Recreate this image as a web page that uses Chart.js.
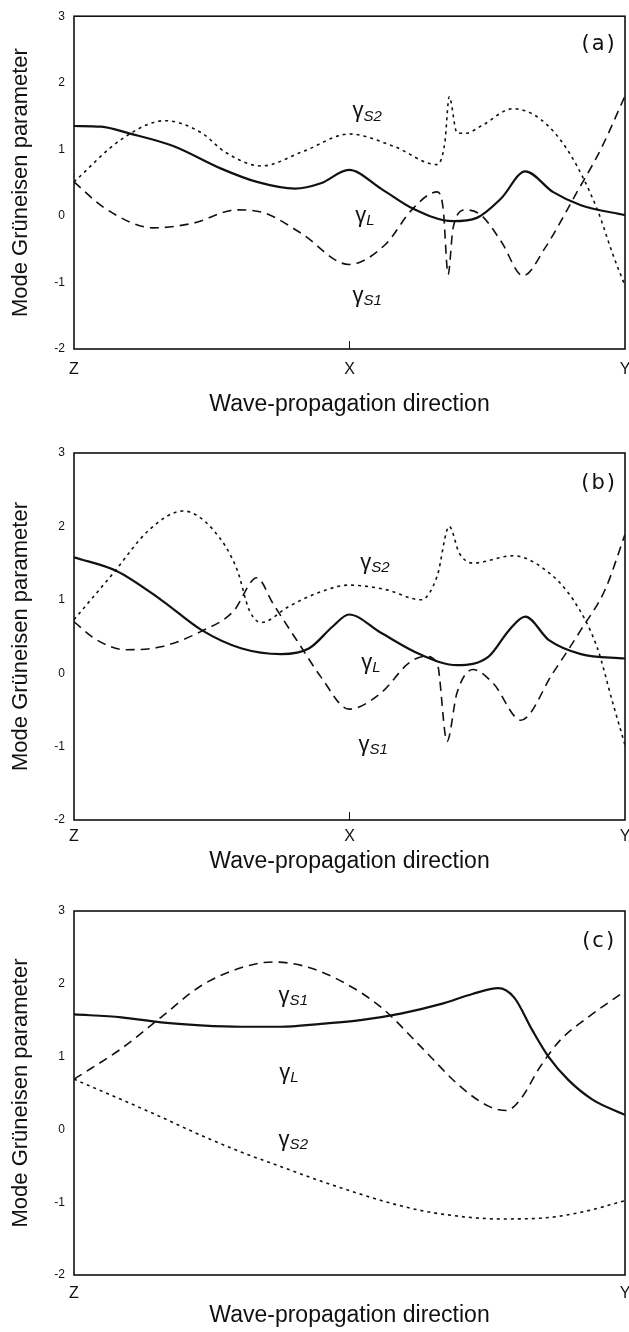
<!DOCTYPE html>
<html>
<head>
<meta charset="utf-8">
<script src="https://cdn.jsdelivr.net/npm/chart.js@4.4.1/dist/chart.umd.min.js"></script>
<style>
    html, body { margin: 0; padding: 0; background: #fff; }
    body { width: 629px; height: 1332px; position: relative; overflow: hidden; }
    .panel { position: absolute; left: 0; width: 629px; }
</style>
</head>
<body>
<div class="panel" style="top:0;height:420px"><canvas id="chartA"></canvas></div>
<div class="panel" style="top:430px;height:450px"><canvas id="chartB"></canvas></div>
<div class="panel" style="top:890px;height:442px"><canvas id="chartC"></canvas></div>
<script>
// axis ticks
const yTicks = [-2, -1, 0, 1, 2, 3];
const xTickLabelsAB = ['Z', 'X', 'Y'];
const xTickLabelsC = ['Z', 'Y'];

// panel (a): position along Z-X-Y path (0..1) and Grüneisen parameter
const aLx = [0, 0.049, 0.100, 0.180, 0.267, 0.332, 0.401, 0.448, 0.499, 0.557, 0.615, 0.688, 0.731, 0.775, 0.819, 0.869, 0.920, 1.0];
const aLy = [1.35, 1.34, 1.24, 1.05, 0.71, 0.51, 0.41, 0.49, 0.69, 0.41, 0.11, -0.08, -0.03, 0.26, 0.67, 0.36, 0.16, 0.01];
const aS2x = [0, 0.086, 0.165, 0.231, 0.274, 0.340, 0.419, 0.499, 0.579, 0.659, 0.673, 0.681, 0.695, 0.710, 0.739, 0.797, 0.847, 0.898, 0.949, 0.978, 1.0];
const aS2y = [0.51, 1.15, 1.43, 1.25, 0.96, 0.75, 0.98, 1.23, 1.05, 0.77, 1.10, 1.79, 1.25, 1.24, 1.35, 1.61, 1.45, 0.96, 0.11, -0.58, -1.05];
const aS1x = [0, 0.057, 0.144, 0.216, 0.296, 0.347, 0.412, 0.499, 0.565, 0.615, 0.659, 0.670, 0.679, 0.688, 0.710, 0.739, 0.775, 0.815, 0.855, 0.913, 0.956, 1.0];
const aS1y = [0.51, 0.11, -0.18, -0.11, 0.09, 0.04, -0.26, -0.73, -0.43, 0.11, 0.36, 0.11, -0.88, -0.18, 0.09, 0.01, -0.38, -0.90, -0.48, 0.36, 1.0, 1.80];

// panel (b)
const bLx = [0, 0.078, 0.158, 0.231, 0.303, 0.376, 0.427, 0.470, 0.499, 0.557, 0.630, 0.695, 0.753, 0.790, 0.819, 0.862, 0.920, 1.0];
const bLy = [1.58, 1.39, 1.0, 0.59, 0.34, 0.26, 0.34, 0.64, 0.80, 0.55, 0.25, 0.11, 0.23, 0.59, 0.77, 0.45, 0.26, 0.20];
const bS2x = [0, 0.071, 0.136, 0.198, 0.253, 0.296, 0.318, 0.340, 0.390, 0.448, 0.499, 0.565, 0.630, 0.659, 0.681, 0.699, 0.724, 0.797, 0.855, 0.906, 0.949, 0.978, 1.0];
const bS2y = [0.73, 1.36, 1.95, 2.21, 1.95, 1.41, 0.86, 0.69, 0.91, 1.11, 1.20, 1.14, 1.0, 1.32, 2.0, 1.64, 1.50, 1.60, 1.41, 1.0, 0.36, -0.41, -0.98];
const bS1x = [0, 0.042, 0.093, 0.158, 0.231, 0.289, 0.332, 0.361, 0.412, 0.448, 0.499, 0.557, 0.608, 0.637, 0.659, 0.677, 0.695, 0.724, 0.761, 0.811, 0.869, 0.920, 0.964, 1.0];
const bS1y = [0.70, 0.45, 0.32, 0.36, 0.57, 0.84, 1.30, 0.95, 0.36, -0.05, -0.49, -0.27, 0.14, 0.23, 0.14, -0.93, -0.27, 0.05, -0.14, -0.64, 0.0, 0.59, 1.14, 1.89];

// panel (c): Z-Y path
const cLx = [0, 0.086, 0.158, 0.230, 0.303, 0.375, 0.448, 0.520, 0.593, 0.665, 0.723, 0.770, 0.799, 0.832, 0.861, 0.897, 0.941, 1.0];
const cLy = [1.58, 1.54, 1.47, 1.43, 1.41, 1.41, 1.45, 1.50, 1.59, 1.72, 1.86, 1.94, 1.81, 1.36, 1.0, 0.68, 0.41, 0.20];
const cS1x = [0, 0.086, 0.158, 0.230, 0.303, 0.361, 0.419, 0.484, 0.557, 0.629, 0.701, 0.752, 0.785, 0.810, 0.846, 0.883, 0.933, 1.0];
const cS1y = [0.69, 1.11, 1.54, 1.97, 2.22, 2.30, 2.24, 2.04, 1.68, 1.14, 0.59, 0.32, 0.26, 0.41, 0.86, 1.23, 1.54, 1.90];
const cS2x = [0, 0.086, 0.158, 0.230, 0.303, 0.375, 0.448, 0.593, 0.665, 0.774, 0.846, 0.919, 1.0];
const cS2y = [0.69, 0.41, 0.17, -0.08, -0.31, -0.51, -0.71, -1.05, -1.16, -1.23, -1.22, -1.14, -0.98];

// curve labels: subscript, x, y (data coords)
const aLabelSubs = ['S2', 'L', 'S1'];
const aLabelX = [0.532, 0.528, 0.532];
const aLabelY = [1.57, 0.0, -1.2];
const bLabelSubs = ['S2', 'L', 'S1'];
const bLabelX = [0.546, 0.539, 0.543];
const bLabelY = [1.5, 0.14, -0.98];
const cLabelSubs = ['S1', 'L', 'S2'];
const cLabelX = [0.398, 0.390, 0.398];
const cLabelY = [1.83, 0.78, -0.15];

const panelTagX = 0.953;
const panelTagY = 2.58;

function toPoints(xs, ys) {
    return xs.map((x, i) => ({ x: x, y: ys[i] }));
}

// frame, inner X tick, curve labels and panel tag
const decorPlugin = {
    id: 'decor',
    afterDatasetsDraw(chart, args, opts) {
        const { ctx, chartArea: a, scales } = chart;
        ctx.save();
        ctx.strokeStyle = '#111';
        ctx.lineWidth = 1.6;
        ctx.strokeRect(a.left, a.top, a.right - a.left, a.bottom - a.top);

        if (opts.midTick) {
            const mx = scales.x.getPixelForValue(0.5);
            ctx.beginPath();
            ctx.moveTo(mx, a.bottom);
            ctx.lineTo(mx, a.bottom - 8);
            ctx.lineWidth = 1;
            ctx.stroke();
        }

        ctx.fillStyle = '#111';
        ctx.textBaseline = 'middle';
        opts.subs.forEach((sub, i) => {
            const px = scales.x.getPixelForValue(opts.lx[i]);
            const py = scales.y.getPixelForValue(opts.ly[i]);
            ctx.font = '22px "Liberation Sans", Arial, sans-serif';
            const gw = ctx.measureText('γ').width;
            ctx.font = 'italic 15px "Liberation Sans", Arial, sans-serif';
            const sw = ctx.measureText(sub).width;
            const x0 = px - (gw + sw) / 2;
            ctx.textAlign = 'left';
            ctx.font = '22px "Liberation Sans", Arial, sans-serif';
            ctx.fillText('γ', x0, py);
            ctx.font = 'italic 15px "Liberation Sans", Arial, sans-serif';
            ctx.fillText(sub, x0 + gw, py + 5);
        });

        ctx.font = '21px "DejaVu Sans", sans-serif';
        ctx.letterSpacing = '2px';
        ctx.textAlign = 'center';
        ctx.fillText(opts.tag, scales.x.getPixelForValue(panelTagX), scales.y.getPixelForValue(panelTagY));
        ctx.restore();
    }
};

function createPanel(canvasId, cfg) {
    const ctx = document.getElementById(canvasId).getContext('2d');
    const lineBase = { pointRadius: 0, borderColor: '#111', cubicInterpolationMode: 'monotone', fill: false };

    new Chart(ctx, {
        type: 'line',
        data: {
            datasets: [
                Object.assign({ label: 'γL', data: cfg.L, borderWidth: 2.2 }, lineBase),
                Object.assign({ label: 'γS1', data: cfg.S1, borderWidth: 1.6, borderDash: [9, 6] }, lineBase),
                Object.assign({ label: 'γS2', data: cfg.S2, borderWidth: 1.6, borderDash: [3, 4] }, lineBase)
            ]
        },
        options: {
            responsive: true,
            maintainAspectRatio: false,
            animation: false,
            layout: { padding: { top: cfg.padTop, right: 4, bottom: 0, left: 0 } },
            scales: {
                x: {
                    type: 'linear',
                    min: 0,
                    max: 1,
                    afterFit: s => {
                        s.height = cfg.xAxisH;
                        s.paddingLeft = 0;
                        s.paddingRight = 0;
                    },
                    afterBuildTicks: s => {
                        s.ticks = cfg.xLabels.map((_, i) => ({ value: i / (cfg.xLabels.length - 1) }));
                    },
                    ticks: {
                        padding: cfg.xTickPad,
                        color: '#111',
                        font: { family: '"Liberation Sans", Arial, sans-serif', size: 16 },
                        maxRotation: 0,
                        callback: (v, i) => cfg.xLabels[i]
                    },
                    grid: { display: false, drawTicks: false },
                    border: { display: false },
                    title: {
                        display: true,
                        text: 'Wave-propagation direction',
                        color: '#111',
                        font: { family: '"Liberation Sans", Arial, sans-serif', size: 23 },
                        padding: { top: 0, bottom: cfg.xTitlePad }
                    }
                },
                y: {
                    min: -2,
                    max: 3,
                    afterFit: s => { s.width = 74; },
                    afterBuildTicks: s => { s.ticks = yTicks.map(v => ({ value: v })); },
                    ticks: {
                        padding: 9,
                        color: '#111',
                        font: { family: '"Liberation Sans", Arial, sans-serif', size: 12 }
                    },
                    grid: { display: false, drawTicks: false },
                    border: { display: false },
                    title: {
                        display: true,
                        text: 'Mode Grüneisen parameter',
                        color: '#111',
                        font: { family: '"Liberation Sans", Arial, sans-serif', size: 22 },
                        padding: { top: 8, bottom: 0 }
                    }
                }
            },
            plugins: {
                legend: { display: false },
                tooltip: { enabled: false },
                decor: { subs: cfg.subs, lx: cfg.lx, ly: cfg.ly, tag: cfg.tag, midTick: cfg.midTick }
            }
        },
        plugins: [decorPlugin]
    });
}

createPanel('chartA', {
    L: toPoints(aLx, aLy), S1: toPoints(aS1x, aS1y), S2: toPoints(aS2x, aS2y),
    xLabels: xTickLabelsAB, padTop: 13, xAxisH: 71, xTickPad: 11, xTitlePad: 2,
    subs: aLabelSubs, lx: aLabelX, ly: aLabelY, tag: '(a)', midTick: true
});
createPanel('chartB', {
    L: toPoints(bLx, bLy), S1: toPoints(bS1x, bS1y), S2: toPoints(bS2x, bS2y),
    xLabels: xTickLabelsAB, padTop: 23, xAxisH: 60, xTickPad: 7, xTitlePad: 5,
    subs: bLabelSubs, lx: bLabelX, ly: bLabelY, tag: '(b)', midTick: true
});
createPanel('chartC', {
    L: toPoints(cLx, cLy), S1: toPoints(cS1x, cS1y), S2: toPoints(cS2x, cS2y),
    xLabels: xTickLabelsC, padTop: 21, xAxisH: 57, xTickPad: 9, xTitlePad: 3,
    subs: cLabelSubs, lx: cLabelX, ly: cLabelY, tag: '(c)', midTick: false
});
</script>
</body>
</html>
